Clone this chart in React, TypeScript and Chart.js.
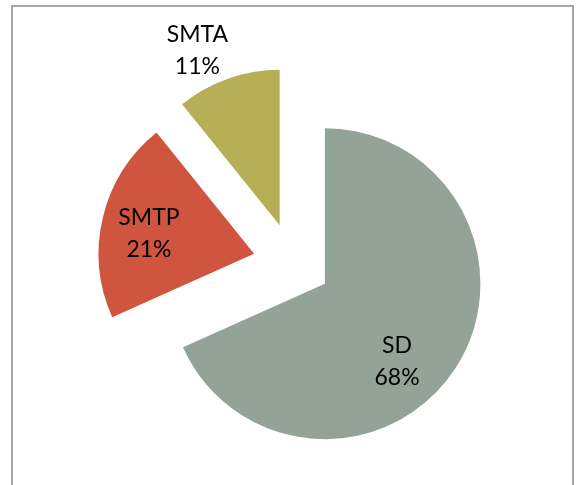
import React, { useEffect, useRef } from "react";
import { Chart, registerables } from "chart.js";

Chart.register(...registerables);

const categories = ["SD", "SMTP", "SMTA"];
const values = [68.3, 20.9, 10.8];
const percentLabels = ["68%", "21%", "11%"];
const sliceColors = ["#93A397", "#D0553F", "#B6AF56"];
// explode distance (px) of each slice, applied along the slice's mid angle
const explode = [38, 40, 40];
// label placement: radius fraction and angle tweak (deg)
const labelRadius = [0.68, 0.69, 1.25];
const labelAngleDelta = [14, -2, -5.6];

const explodePlugin = {
  id: "explodeSlices",
  afterDatasetUpdate(chart: any, args: any) {
    const meta = chart.getDatasetMeta(args.index);
    meta.data.forEach((arc: any, i: number) => {
      const mid = (arc.startAngle + arc.endAngle) / 2;
      arc.x += Math.cos(mid) * explode[i];
      arc.y += Math.sin(mid) * explode[i];
    });
  },
};

const labelPlugin = {
  id: "sliceLabels",
  afterDatasetsDraw(chart: any) {
    const ctx = chart.ctx;
    const meta = chart.getDatasetMeta(0);
    ctx.save();
    ctx.fillStyle = "#000";
    ctx.font = "23px Lato";
    ctx.textAlign = "center";
    ctx.textBaseline = "middle";
    meta.data.forEach((arc: any, i: number) => {
      const p = arc.getProps(["x", "y", "startAngle", "endAngle", "outerRadius"], true);
      const mid = (p.startAngle + p.endAngle) / 2;
      const a = mid + (labelAngleDelta[i] * Math.PI) / 180;
      const r = p.outerRadius * labelRadius[i];
      const cx = p.x + Math.cos(a) * r;
      const cy = p.y + Math.sin(a) * r;
      ctx.fillText(categories[i], cx, cy - 15);
      ctx.fillText(percentLabels[i], cx, cy + 17);
    });
    ctx.restore();
  },
};

export default function App() {
  const ref = useRef<HTMLCanvasElement>(null);
  useEffect(() => {
    document.body.style.margin = "0";
    const chart = new Chart(ref.current!, {
      type: "pie",
      data: {
        labels: categories,
        datasets: [
          {
            data: values,
            backgroundColor: sliceColors,
            borderWidth: 0,
            radius: 155.5,
          } as any,
        ],
      },
      options: {
        animation: false,
        responsive: false,
        radius: 155.5,
        layout: { padding: { left: 9, right: 0, top: 41, bottom: 0 } },
        plugins: { legend: { display: false }, tooltip: { enabled: false } },
      } as any,
      plugins: [explodePlugin, labelPlugin],
    });
    return () => chart.destroy();
  }, []);
  return (
    <div style={{ position: "fixed", left: 0, top: 0, width: 577, height: 485, background: "#fff", overflow: "hidden" }}>
      <div
        style={{
          position: "absolute",
          left: 11,
          top: 5,
          width: 563,
          height: 500,
          border: "2px solid #a6a6a6",
          boxSizing: "border-box",
        }}
      />
      <canvas ref={ref} width={577} height={485} style={{ position: "absolute", left: 0, top: 0 }} />
    </div>
  );
}
